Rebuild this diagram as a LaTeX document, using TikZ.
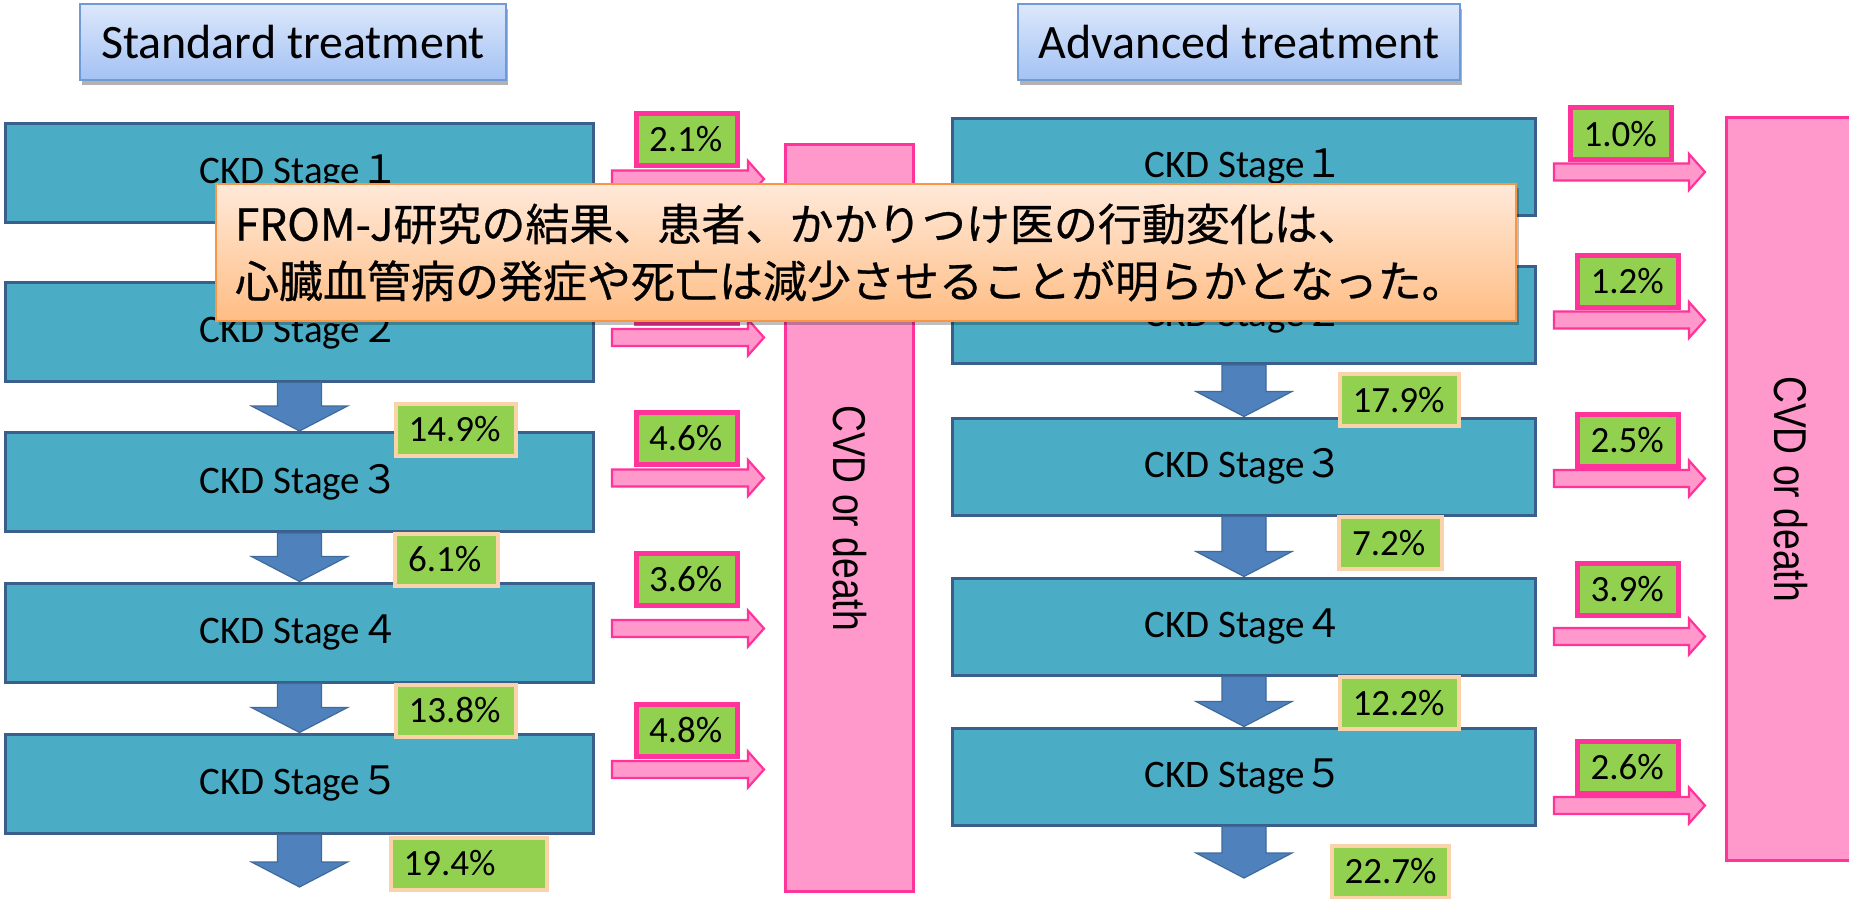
\documentclass[tikz,border=0pt]{standalone}
\usepackage{fontspec}
\usepackage{graphicx}
\setmainfont{Carlito}
\newfontfamily\cjk{Noto Sans CJK JP}
\newfontfamily\cjknote[FakeBold=0.6]{Noto Sans CJK JP}
\newfontfamily\cvdfont{Liberation Sans}
\usetikzlibrary{shadows,calc}
\definecolor{stagefill}{HTML}{4BACC6}
\definecolor{stageline}{HTML}{3A5F8B}
\definecolor{arrfill}{HTML}{4F81BD}
\definecolor{arrline}{HTML}{3F6A9C}
\definecolor{pinkfill}{HTML}{FF99CC}
\definecolor{pinkline}{HTML}{FF3399}
\definecolor{labgreen}{HTML}{92D050}
\definecolor{tanline}{HTML}{FAD3AA}
\definecolor{titletop}{HTML}{DDE8FB}
\definecolor{titlebot}{HTML}{A3C2F4}
\definecolor{titleline}{HTML}{6F9AD5}
\definecolor{calltop}{HTML}{FFE9D9}
\definecolor{callbot}{HTML}{FFBD84}
\definecolor{callline}{HTML}{F79646}
\tikzset{
  stagebox/.style={draw=stageline, line width=1.5pt, fill=stagefill, inner sep=0pt,
    font=\fontsize{19.5}{23}\selectfont},
  lstage/.style={stagebox, minimum width=294pt, minimum height=49.5pt},
  rstage/.style={stagebox, minimum width=291.5pt, minimum height=48.5pt},
  titlebox/.style={draw=titleline, line width=1pt, top color=titletop, bottom color=titlebot,
    minimum height=38pt, inner sep=0pt, font=\fontsize{24}{28}\selectfont,
    drop shadow={shadow xshift=1pt, shadow yshift=-2.5pt, fill=black, opacity=0.3}},
  labbase/.style={fill=labgreen, minimum height=26pt, inner xsep=6.5pt, inner ysep=0pt,
    align=left, font=\fontsize{18.5}{21}\selectfont},
  pinklab/.style={labbase, draw=pinkline, line width=2.5pt},
  tanlab/.style={labbase, draw=tanline, line width=2pt},
  cvdbar/.style={draw=pinkline, line width=1.5pt, fill=pinkfill, inner sep=0pt},
  downarr/.style={fill=arrfill, draw=arrline, line width=0.6pt, line join=miter},
  pinkarr/.style={fill=pinkfill, draw=pinkline, line width=1.1pt, line join=miter},
  callbox/.style={draw=callline, line width=1pt, top color=calltop, bottom color=callbot,
    minimum width=650pt, minimum height=68pt, inner xsep=9.5pt, text width=631pt, align=left,
    font=\cjknote\fontsize{22}{28.5}\selectfont,
    drop shadow={shadow xshift=1.5pt, shadow yshift=-2pt, fill=black, opacity=0.25}},
}
\newcommand\blockdown[2]{%
  \draw[downarr] let \p1=(#1.south), \p2=#2 in
    (\x1-11pt,\y1) -- (\x1-11pt,\y2+12.5pt) -- (\x1-24pt,\y2+12.5pt) -- (\x1,\y2)
    -- (\x1+24pt,\y2+12.5pt) -- (\x1+11pt,\y2+12.5pt) -- (\x1+11pt,\y1) -- cycle;}
\newcommand\pinkarrow[3]{%
  \draw[pinkarr] let \p1=($(#1.east)+(17,#2)$), \p2=(#3.west) in
    (\x1,\y1+4.25pt) -- (\x2-18pt,\y1+4.25pt) -- (\x2-18pt,\y1+9pt) -- (\x2-10pt,\y1)
    -- (\x2-18pt,\y1-9pt) -- (\x2-18pt,\y1-4.25pt) -- (\x1,\y1-4.25pt) -- cycle;}
\begin{document}
\begin{tikzpicture}[x=0.5pt,y=-0.5pt]
\useasboundingbox (0,0) rectangle (1849,899);
\clip (0,0) rectangle (1849,899);
\fill[white] (0,0) rectangle (1849,899);

% titles
\node[titlebox, minimum width=213pt] (tstd) at (293,42) {Standard treatment};
\node[titlebox, minimum width=221pt] (tadv) at (1239,42) {Advanced treatment};

% CVD bars
\node[cvdbar, minimum width=64pt, minimum height=373.5pt] (cvdL) at (849.5,518)
  {\rotatebox{-90}{\cvdfont\fontsize{23}{23}\selectfont\scalebox{0.81}[1]{CVD or death}}};
\node[cvdbar, minimum width=64pt, minimum height=371.5pt] (cvdR) at (1790.5,489)
  {\rotatebox{-90}{\cvdfont\fontsize{23}{23}\selectfont\scalebox{0.81}[1]{CVD or death}}};

% left stages
\node[lstage] (L1) at (299.5,173) {CKD Stage{\cjk １}};
\node[lstage] (L2) at (299.5,331.5) {CKD Stage{\cjk ２}};
\node[lstage] (L3) at (299.5,482) {CKD Stage{\cjk ３}};
\node[lstage] (L4) at (299.5,632.5) {CKD Stage{\cjk ４}};
\node[lstage] (L5) at (299.5,783.5) {CKD Stage{\cjk ５}};
\coordinate (eL) at (298,887);

% right stages
\node[rstage] (R1) at (1244,167) {CKD Stage{\cjk １}};
\node[rstage] (R2) at (1244,315) {CKD Stage{\cjk ２}};
\node[rstage] (R3) at (1244,466.5) {CKD Stage{\cjk ３}};
\node[rstage] (R4) at (1244,626.5) {CKD Stage{\cjk ４}};
\node[rstage] (R5) at (1244,776.5) {CKD Stage{\cjk ５}};
\coordinate (eR) at (1238,878);

% down arrows
\blockdown{L2}{(L3.north)}
\blockdown{L3}{(L4.north)}
\blockdown{L4}{(L5.north)}
\blockdown{L5}{(eL)}
\blockdown{R2}{(R3.north)}
\blockdown{R3}{(R4.north)}
\blockdown{R4}{(R5.north)}
\blockdown{R5}{(eR)}

% pink arrows
\pinkarrow{L1}{6}{cvdL}
\pinkarrow{L2}{6}{cvdL}
\pinkarrow{L3}{-4}{cvdL}
\pinkarrow{L4}{-4}{cvdL}
\pinkarrow{L5}{-14}{cvdL}
\pinkarrow{R1}{5}{cvdR}
\pinkarrow{R2}{5}{cvdR}
\pinkarrow{R3}{12}{cvdR}
\pinkarrow{R4}{10}{cvdR}
\pinkarrow{R5}{29}{cvdR}

% progression labels
\node[tanlab, text width=47pt] (p3L) at (455.5,429.5) {14.9\%};
\node[tanlab, text width=38.5pt] (p4L) at (446.5,559.5) {6.1\%};
\node[tanlab, text width=47pt] (p5L) at (455.5,710.5) {13.8\%};
\node[tanlab, text width=65pt] (p6L) at (468.5,863.5) {19.4\%};
\node[tanlab, text width=46.5pt] (p3R) at (1399,400) {17.9\%};
\node[tanlab, text width=38.5pt] (p4R) at (1390.5,543) {7.2\%};
\node[tanlab, text width=46.5pt] (p5R) at (1399,703) {12.2\%};
\node[tanlab, text width=45.5pt] (p6R) at (1390,871.5) {22.7\%};

% CVD labels
\node[pinklab, text width=37.5pt] (c1L) at (686.5,139.5) {2.1\%};
\node[pinklab, text width=37.5pt] (c2L) at (686.5,297.5) {};
\node[pinklab, text width=37.5pt] (c3L) at (686.5,438.5) {4.6\%};
\node[pinklab, text width=37.5pt] (c4L) at (686.5,579.5) {3.6\%};
\node[pinklab, text width=37.5pt] (c5L) at (686.5,730.5) {4.8\%};
\node[pinklab, text width=37.5pt] (c1R) at (1621,134) {1.0\%};
\node[pinklab, text width=37.5pt] (c2R) at (1628,281.5) {1.2\%};
\node[pinklab, text width=37.5pt] (c3R) at (1628,440) {2.5\%};
\node[pinklab, text width=37.5pt] (c4R) at (1628,589.5) {3.9\%};
\node[pinklab, text width=37.5pt] (c5R) at (1628,767.5) {2.6\%};

% callout
\node[callbox] (note) at (866,252.5)
  {FROM-J研究の結果、患者、かかりつけ医の行動変化は、\\心臓血管病の発症や死亡は減少させることが明らかとなった。};
\end{tikzpicture}
\end{document}
